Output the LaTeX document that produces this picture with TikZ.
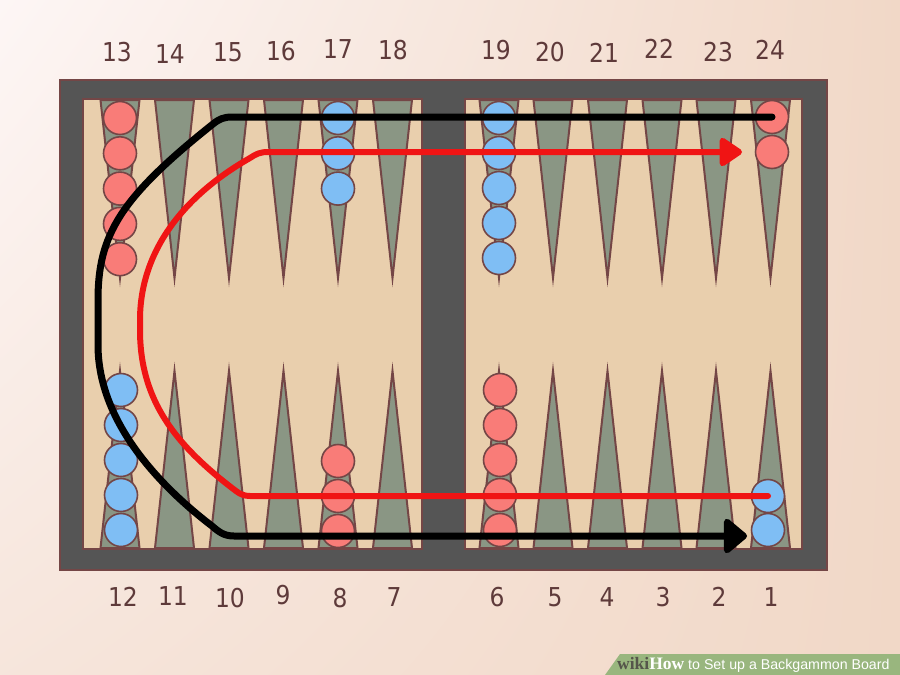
\documentclass[tikz,border=0pt]{standalone}
\usepackage{fontspec}
\setmainfont{DejaVu Sans}
\newfontfamily\numfont[FakeStretch=0.9]{DejaVu Sans}
\newfontfamily\wikifont{Liberation Serif}
\newfontfamily\bannerfont{Liberation Sans}
\usetikzlibrary{arrows.meta,shadings}
\definecolor{bg}{HTML}{F1D8C7}
\definecolor{bgl}{HTML}{FDF6F5}
\definecolor{framec}{HTML}{555555}
\definecolor{edge}{HTML}{744646}
\definecolor{felt}{HTML}{E9CFAD}
\definecolor{ptc}{HTML}{8A9684}
\definecolor{redc}{HTML}{F97C78}
\definecolor{bluec}{HTML}{7FBEF4}
\definecolor{txt}{HTML}{5E3A3A}
\definecolor{pathred}{HTML}{F01414}
\definecolor{banner}{HTML}{99B67E}
\definecolor{wikigray}{HTML}{55554A}
\tikzset{
  board/.style={fill=felt, draw=edge, line width=1.8pt},
  tri/.style={fill=ptc, draw=edge, line width=2pt, line join=miter},
  redck/.style={circle, minimum size=33pt, inner sep=0pt, fill=redc, draw=edge, line width=1.6pt},
  blueck/.style={circle, minimum size=33pt, inner sep=0pt, fill=bluec, draw=edge, line width=1.6pt},
  num/.style={text=txt, font=\numfont\fontsize{26}{26}\selectfont, inner sep=0pt},
  blackpath/.style={draw=black, line width=7pt, line cap=round, line join=round, -{Triangle[length=25pt,width=40pt,round]}},
  redpath/.style={draw=pathred, line width=6pt, line cap=round, line join=round, -{Triangle[length=25pt,width=32pt,round]}}
}
\begin{document}
\begin{tikzpicture}[x=1pt,y=-1pt]
\useasboundingbox (0,0) rectangle (900,675);
% background
\shade[upper left=bgl, upper right=bg, lower left=bg!55!bgl, lower right=bg] (0,0) rectangle (900,675);
% frame
\node[draw=edge, fill=framec, line width=1.5pt, minimum width=767pt, minimum height=490pt, inner sep=0pt] (frame) at (443.5,325) {};
\node[board, minimum width=339pt, minimum height=450pt, inner sep=0pt] (left) at (252.5,324) {};
\node[board, minimum width=337pt, minimum height=450pt, inner sep=0pt] (right) at (633.5,324) {};
% points
\foreach \c in {120,174.5,229,283.5,338,392.5,499,553,607.5,662,716,770.5}{
  \draw[tri] (\c-19.5,100) -- (\c,278) -- (\c+19.5,100) -- cycle;
  \draw[tri] (\c-19.5,548) -- (\c,371) -- (\c+19.5,548) -- cycle;
}
% checkers
\foreach \k in {1,...,5}{
  \node[redck] (p13-\k) at (120,{118+35.3*(\k-1)}) {};
  \node[blueck] (p19-\k) at (499,{118+35*(\k-1)}) {};
  \node[blueck] (p12-\k) at (121,{530-35*(\k-1)}) {};
  \node[redck] (p6-\k) at (500,{530-35*(\k-1)}) {};
}
\foreach \k in {1,2,3}{
  \node[blueck] (p17-\k) at (338,{118+35.3*(\k-1)}) {};
  \node[redck] (p8-\k) at (338,{531-35*(\k-1)}) {};
}
\foreach \k in {1,2}{
  \node[redck] (p24-\k) at (772,{117+35*(\k-1)}) {};
  \node[blueck] (p1-\k) at (768,{530-34*(\k-1)}) {};
}
% numbers
\node[num] (n13) at (117,52) {13};
\node[num] (n14) at (170,54) {14};
\node[num] (n15) at (228,52) {15};
\node[num] (n16) at (281,51) {16};
\node[num] (n17) at (338,49) {17};
\node[num] (n18) at (393,50) {18};
\node[num] (n19) at (496,50) {19};
\node[num] (n20) at (550,52) {20};
\node[num] (n21) at (604,53) {21};
\node[num] (n22) at (659,49) {22};
\node[num] (n23) at (718,52) {23};
\node[num] (n24) at (770,50) {24};
\node[num] (n12) at (123,597) {12};
\node[num] (n11) at (173,596) {11};
\node[num] (n10) at (230,598) {10};
\node[num] (n9) at (283,595) {9};
\node[num] (n8) at (340,598) {8};
\node[num] (n7) at (394,597) {7};
\node[num] (n6) at (497,597) {6};
\node[num] (n5) at (555,597) {5};
\node[num] (n4) at (607,597) {4};
\node[num] (n3) at (663,597) {3};
\node[num] (n2) at (719,597) {2};
\node[num] (n1) at (771,597) {1};
% movement paths
\coordinate (blackend) at (747,536);
\coordinate (redend) at (742,152);
\draw[blackpath] (p24-1.center) -- (232,117) .. controls (224,117) and (219,119) .. (213,124)
  .. controls (120,198) and (98,235) .. (98,300) -- (98,345)
  .. controls (98,425) and (165,490) .. (212,526)
  .. controls (219,532) and (224,536) .. (234,536) -- (blackend);
\draw[redpath] (p1-2.center) -- (250,496) .. controls (244,496) and (240,494) .. (236,491)
  .. controls (175,445) and (140,400) .. (140,330) -- (140,320)
  .. controls (140,250) and (185,195) .. (250,158)
  .. controls (256,154) and (260,152) .. (268,152) -- (redend);
% banner
\fill[banner] (620,654) -- (900,654) -- (900,675) -- (605,675) -- cycle;
\node[inner sep=0pt, anchor=west] (bannertext) at (617,664.5) {{\fontsize{17.5}{17.5}\selectfont\wikifont\bfseries\textcolor{wikigray}{wiki}\textcolor{white}{How}}\textcolor{white}{\bannerfont\fontsize{14.2}{14.2}\selectfont{} to Set up a Backgammon Board}};
\end{tikzpicture}
\end{document}
